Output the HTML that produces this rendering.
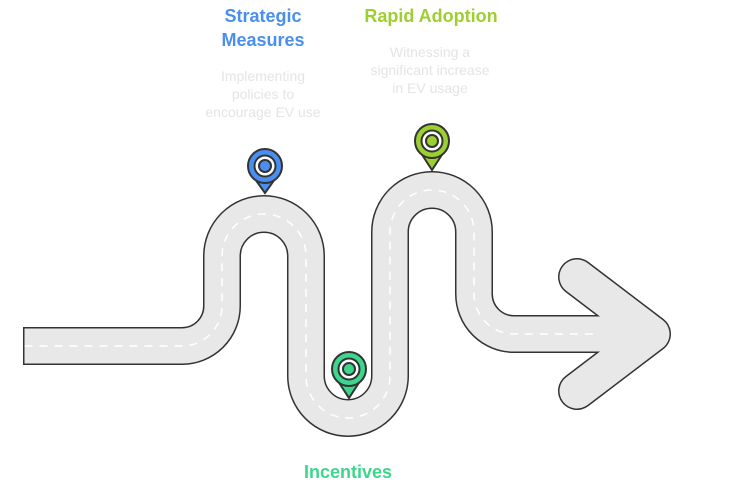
<!DOCTYPE html>
<html><head><style>
body{margin:0;background:#fff;}
svg{display:block;font-family:"Liberation Sans",sans-serif;}
</style></head><body>
<svg width="732" height="500" viewBox="0 0 732 500">
<g fill="none" stroke-linejoin="round">
<path d="M23 346 H182 A40 40 0 0 0 222 306 V256 A42 42 0 0 1 306 256 V376 A42 42 0 0 0 390 376 V232 A42 42 0 0 1 474 232 V294 A40 40 0 0 0 514 334 H640" stroke="#333" stroke-width="38" stroke-linecap="butt"/>
<path d="M577 277 L652 334 L577 391" stroke="#333" stroke-width="38" stroke-linecap="round"/>
<path d="M24.5 346 H182 A40 40 0 0 0 222 306 V256 A42 42 0 0 1 306 256 V376 A42 42 0 0 0 390 376 V232 A42 42 0 0 1 474 232 V294 A40 40 0 0 0 514 334 H640" stroke="#e8e8e8" stroke-width="35"/>
<path d="M577 277 L652 334 L577 391" stroke="#e8e8e8" stroke-width="35" stroke-linecap="round"/>
<path d="M24.5 346 H182 A40 40 0 0 0 222 306 V256 A42 42 0 0 1 306 256 V376 A42 42 0 0 0 390 376 V232 A42 42 0 0 1 474 232 V294 A40 40 0 0 0 514 334 H596" stroke="#fff" stroke-width="1.5" stroke-dasharray="8 7"/>
</g>
<g stroke="#333" stroke-width="2">
<path d="M250 172 L265 193 L280 172 Z" fill="#4a8ff0"/>
<circle cx="265" cy="166" r="17" fill="#4a8ff0"/>
<circle cx="265" cy="166" r="10.5" fill="#fff"/>
<circle cx="265" cy="166" r="6" fill="#4a8ff0"/>
<path d="M334 375 L349 398 L364 375 Z" fill="#3dd68c"/>
<circle cx="349" cy="369" r="17" fill="#3dd68c"/>
<circle cx="349" cy="369" r="10.5" fill="#fff"/>
<circle cx="349" cy="369" r="6" fill="#3dd68c"/>
<path d="M417 147 L432 170 L447 147 Z" fill="#9ccf2f"/>
<circle cx="432" cy="141" r="17" fill="#9ccf2f"/>
<circle cx="432" cy="141" r="10.5" fill="#fff"/>
<circle cx="432" cy="141" r="6" fill="#9ccf2f"/>
</g>
<g text-anchor="middle" font-weight="bold" font-size="18">
<text x="263" y="22" fill="#4a8ff0">Strategic</text>
<text x="263" y="46" fill="#4a8ff0">Measures</text>
<text x="431" y="22" fill="#9ccf2f">Rapid Adoption</text>
<text x="348" y="478" fill="#3dd68c">Incentives</text>
</g>
<g text-anchor="middle" font-size="14" fill="#e4e4e4">
<text x="263" y="81">Implementing</text>
<text x="263" y="99">policies to</text>
<text x="263" y="117">encourage EV use</text>
<text x="430" y="57">Witnessing a</text>
<text x="430" y="75">significant increase</text>
<text x="430" y="93">in EV usage</text>
</g>
</svg>
</body></html>
